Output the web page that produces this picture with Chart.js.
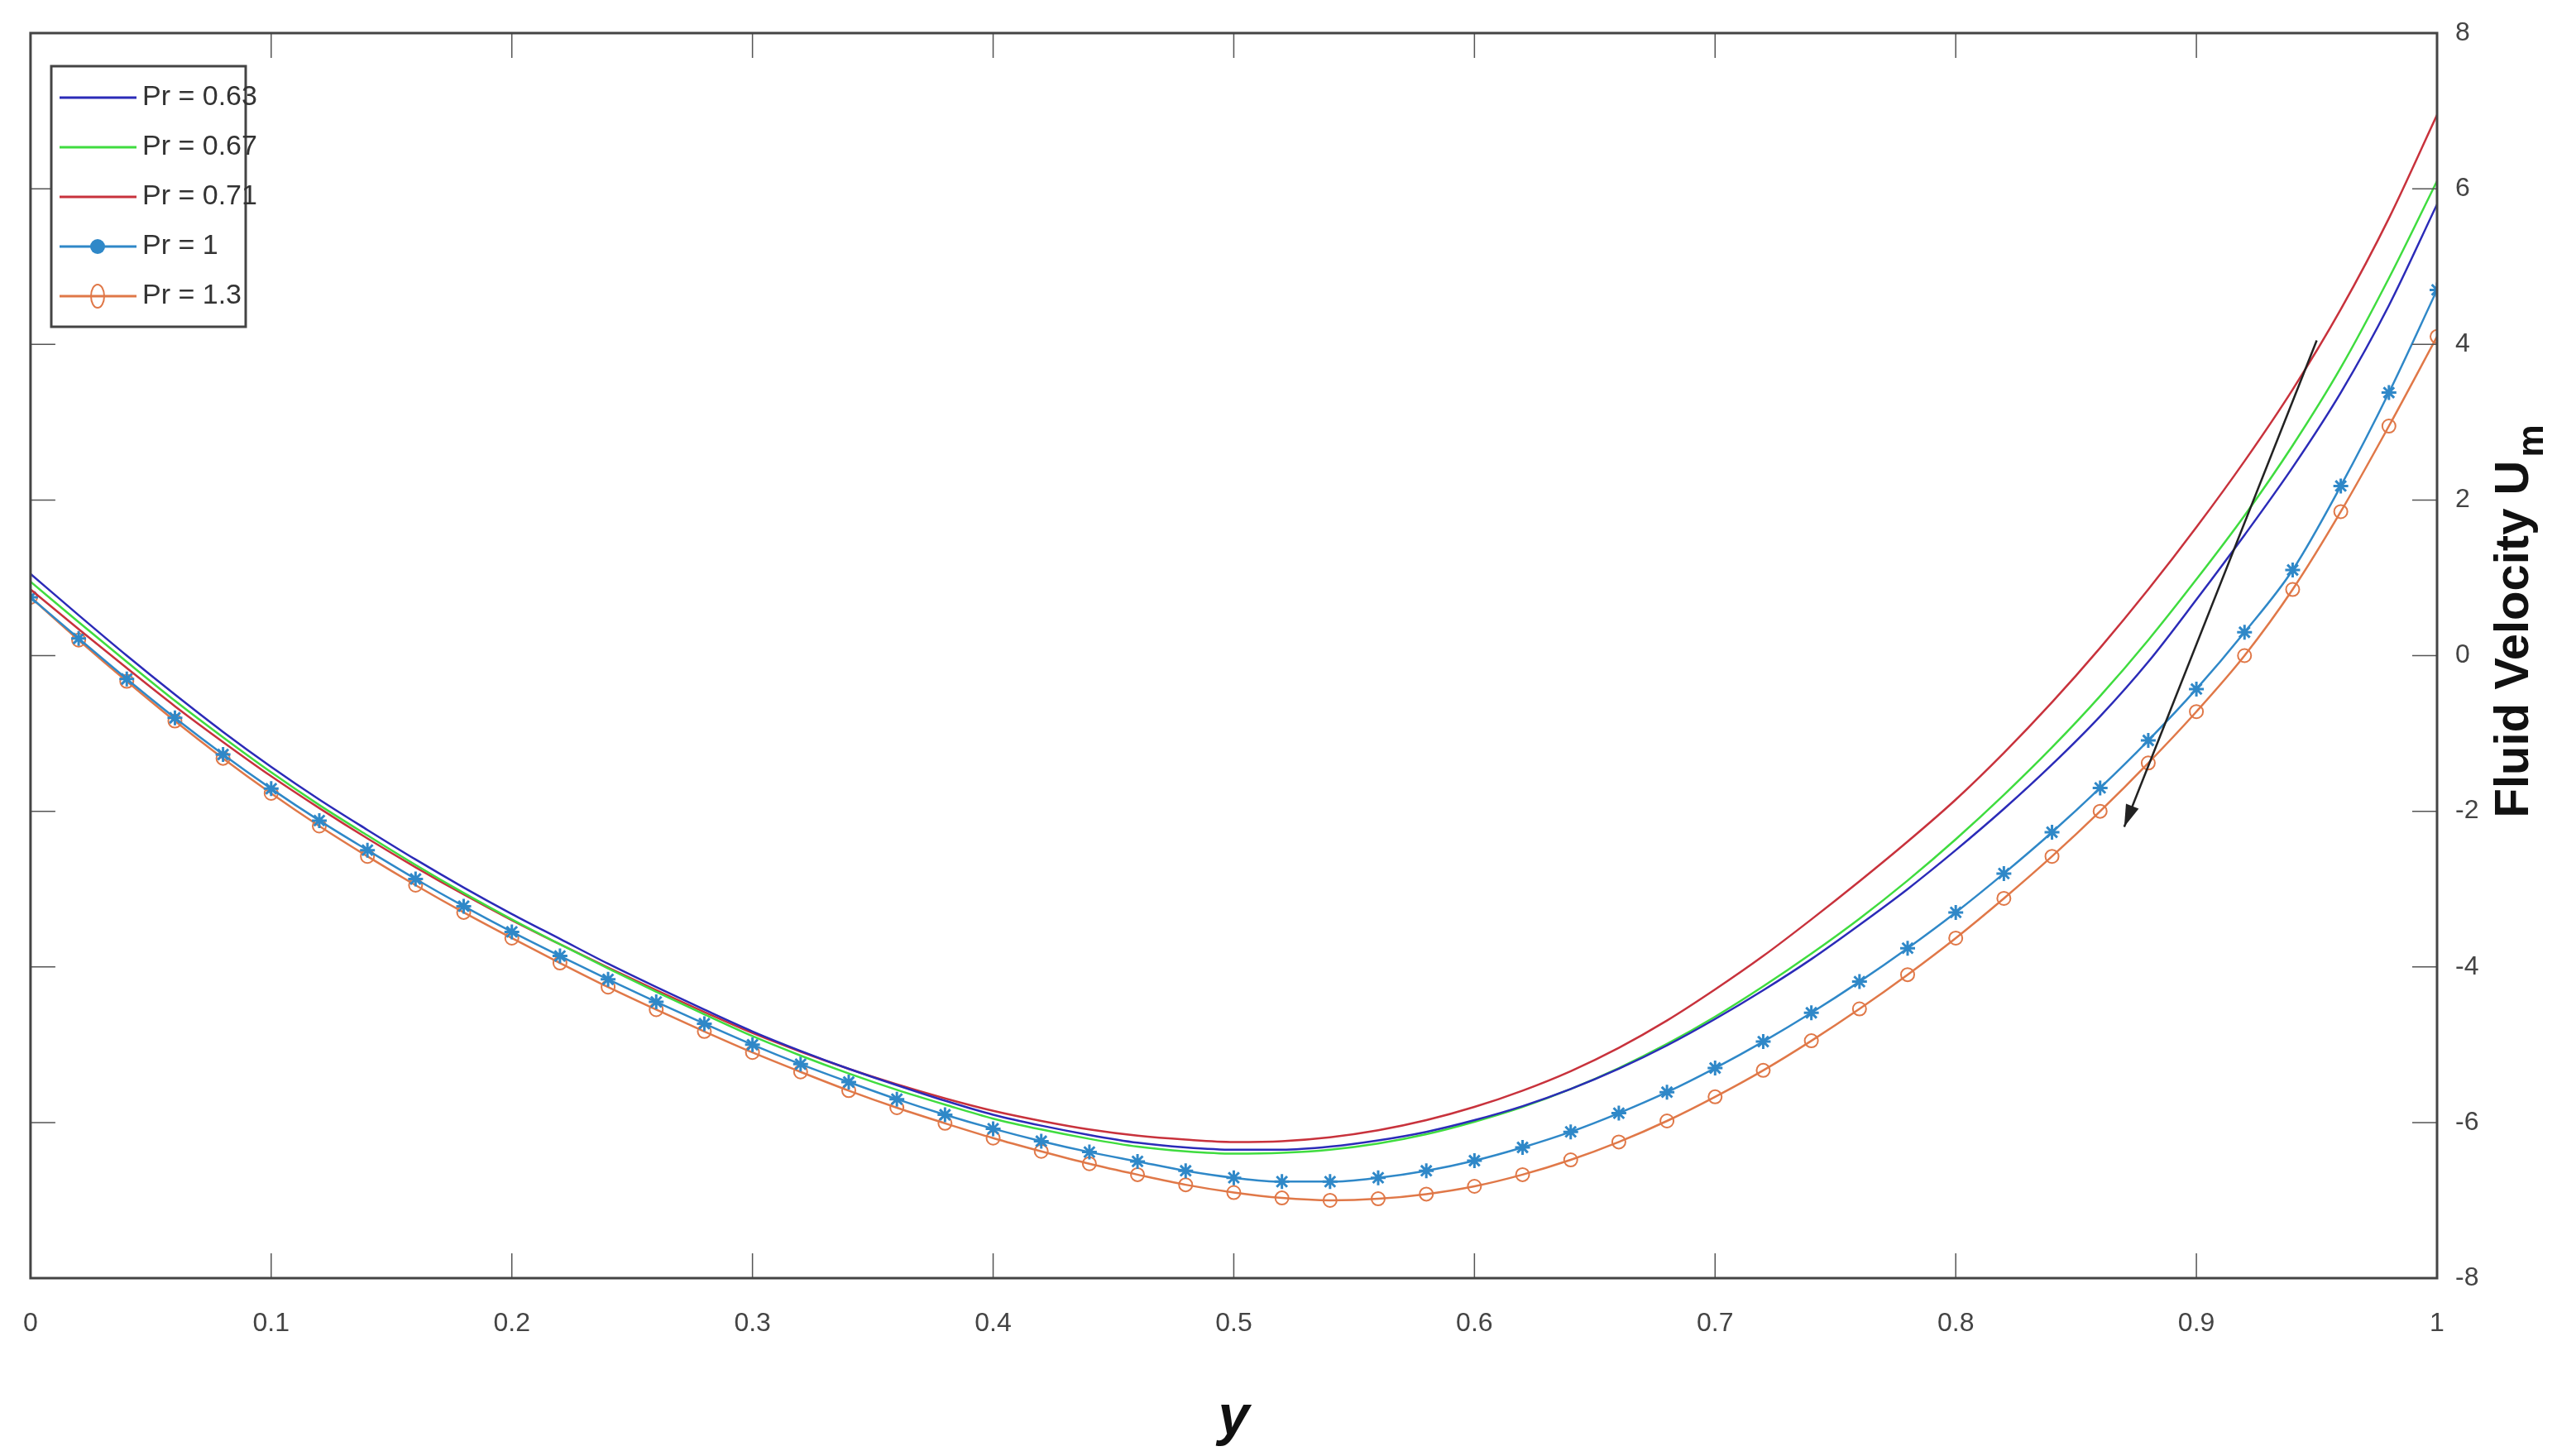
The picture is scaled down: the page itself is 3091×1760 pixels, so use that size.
<!DOCTYPE html>
<html><head><meta charset="utf-8">
<script src="https://cdn.jsdelivr.net/npm/chart.js@4/dist/chart.umd.min.js"></script>
<style>html,body{margin:0;padding:0;background:#fff}#w{width:3091px;height:1760px}</style>
</head><body><div id="w"><canvas id="c"></canvas></div>
<script>
const xs = [0,.02,.04,.06,.08,.10,.12,.14,.16,.18,.20,.22,.24,.26,.28,.30,.32,.34,.36,.38,.40,.42,.44,.46,.48,.50,.52,.54,.56,.58,.60,.62,.64,.66,.68,.70,.72,.74,.76,.78,.80,.82,.84,.86,.88,.90,.92,.94,.96,.98,1];
const pr063 = [1.05,0.52,0.0,-0.5,-0.98,-1.43,-1.85,-2.24,-2.62,-2.98,-3.32,-3.64,-3.96,-4.26,-4.55,-4.83,-5.08,-5.31,-5.52,-5.72,-5.9,-6.04,-6.16,-6.26,-6.32,-6.35,-6.35,-6.31,-6.23,-6.12,-5.97,-5.79,-5.57,-5.31,-5.01,-4.67,-4.3,-3.9,-3.46,-3.0,-2.5,-1.97,-1.4,-0.78,-0.08,0.72,1.55,2.42,3.38,4.5,5.8];
const pr067 = [0.95,0.43,-0.08,-0.58,-1.05,-1.5,-1.92,-2.31,-2.69,-3.05,-3.39,-3.71,-4.02,-4.32,-4.61,-4.89,-5.14,-5.37,-5.58,-5.77,-5.95,-6.09,-6.21,-6.31,-6.37,-6.4,-6.39,-6.35,-6.27,-6.15,-5.99,-5.8,-5.57,-5.3,-4.99,-4.64,-4.25,-3.83,-3.38,-2.89,-2.36,-1.79,-1.18,-0.52,0.2,0.98,1.8,2.7,3.7,4.85,6.1];
const pr071 = [0.85,0.34,-0.16,-0.65,-1.11,-1.55,-1.96,-2.35,-2.72,-3.07,-3.4,-3.71,-4.01,-4.3,-4.58,-4.85,-5.09,-5.31,-5.51,-5.69,-5.85,-5.98,-6.09,-6.17,-6.22,-6.25,-6.24,-6.19,-6.1,-5.97,-5.8,-5.59,-5.34,-5.04,-4.69,-4.29,-3.86,-3.39,-2.9,-2.39,-1.85,-1.25,-0.6,0.1,0.85,1.65,2.5,3.42,4.45,5.62,6.95];
const pr1 = [0.75,0.22,-0.3,-0.8,-1.27,-1.71,-2.12,-2.5,-2.87,-3.22,-3.55,-3.86,-4.16,-4.45,-4.73,-5.0,-5.25,-5.48,-5.7,-5.9,-6.08,-6.24,-6.38,-6.5,-6.62,-6.71,-6.76,-6.76,-6.71,-6.62,-6.49,-6.32,-6.12,-5.88,-5.61,-5.3,-4.96,-4.59,-4.19,-3.76,-3.3,-2.8,-2.27,-1.7,-1.09,-0.43,0.3,1.1,2.18,3.38,4.7];
const pr13 = [0.75,0.2,-0.33,-0.84,-1.32,-1.77,-2.19,-2.58,-2.95,-3.3,-3.63,-3.95,-4.26,-4.55,-4.83,-5.1,-5.35,-5.59,-5.81,-6.01,-6.2,-6.37,-6.53,-6.67,-6.8,-6.9,-6.97,-7.0,-6.98,-6.92,-6.82,-6.67,-6.48,-6.25,-5.98,-5.67,-5.33,-4.95,-4.54,-4.1,-3.63,-3.12,-2.58,-2.0,-1.38,-0.72,0.0,0.85,1.85,2.95,4.1];
const labels = ['Pr = 0.63','Pr = 0.67','Pr = 0.71','Pr = 1','Pr = 1.3'];
const colors = ['#2b2bb8','#3fdc3f','#c8323c','#2f88c8','#e07848'];
const xTicks = [0,0.1,0.2,0.3,0.4,0.5,0.6,0.7,0.8,0.9,1];
const yTicks = [-8,-6,-4,-2,0,2,4,6,8];
const arrow = {from:[0.95,4.05], to:[0.87,-2.2]};
const series=[pr063,pr067,pr071,pr1,pr13];
const styles=['line','line','line','star','circle'];
const FONT='"Liberation Sans Narrow","Liberation Sans",Arial,sans-serif';

const ds = series.map((s,i)=>({label:labels[i],data:xs.map((x,j)=>({x,y:s[j]})),borderColor:colors[i],backgroundColor:styles[i]==='star'?colors[i]:'rgba(0,0,0,0)',borderWidth:2.5,pointStyle:styles[i]==='line'?false:(styles[i]==='star'?'star':'circle'),pointRadius:styles[i]==='line'?0:(styles[i]==='star'?9:8),pointBorderWidth:styles[i]==='star'?3:2,pointBorderColor:colors[i],cubicInterpolationMode:'monotone'}));

const deco={id:'deco',afterDatasetsDraw(ch){
  const c=ch.ctx,a=ch.chartArea,X=ch.scales.x,Y=ch.scales.y;
  c.save();
  c.strokeStyle='#555';c.lineWidth=1.5;
  xTicks.forEach(t=>{const px=X.getPixelForValue(t);c.beginPath();c.moveTo(px,a.bottom);c.lineTo(px,a.bottom-30);c.moveTo(px,a.top);c.lineTo(px,a.top+30);c.stroke();});
  yTicks.forEach(t=>{const py=Y.getPixelForValue(t);c.beginPath();c.moveTo(a.left,py);c.lineTo(a.left+30,py);c.moveTo(a.right,py);c.lineTo(a.right-30,py);c.stroke();});
  c.strokeStyle='#444';c.lineWidth=3;c.strokeRect(a.left,a.top,a.right-a.left,a.bottom-a.top);
  const x1=X.getPixelForValue(arrow.from[0]),y1=Y.getPixelForValue(arrow.from[1]),x2=X.getPixelForValue(arrow.to[0]),y2=Y.getPixelForValue(arrow.to[1]);
  c.strokeStyle='#222';c.fillStyle='#222';c.lineWidth=2.5;c.beginPath();c.moveTo(x1,y1);c.lineTo(x2,y2);c.stroke();
  const ang=Math.atan2(y2-y1,x2-x1),L=28;
  c.beginPath();c.moveTo(x2,y2);c.lineTo(x2-L*Math.cos(ang-0.3),y2-L*Math.sin(ang-0.3));c.lineTo(x2-L*Math.cos(ang+0.3),y2-L*Math.sin(ang+0.3));c.closePath();c.fill();
  // legend
  c.fillStyle='#fff';c.fillRect(62,80,235,315);c.strokeStyle='#444';c.lineWidth=3;c.strokeRect(62,80,235,315);
  const ys=[118,178,238,298,358];
  c.font='34px '+FONT;c.textBaseline='middle';
  ys.forEach((yy,i)=>{c.strokeStyle=colors[i];c.lineWidth=3;c.beginPath();c.moveTo(72,yy);c.lineTo(165,yy);c.stroke();
    if(styles[i]!=='line'){c.lineWidth=2;c.beginPath();if(styles[i]==='circle'){c.ellipse(118,yy,8,14,0,0,Math.PI*2);c.stroke();}else{c.fillStyle=colors[i];c.arc(118,yy,9,0,Math.PI*2);c.fill();}}
    c.fillStyle='#333';c.fillText(labels[i],172,yy);});
  // right axis title, reading bottom to top
  c.translate(3040,(a.top+a.bottom)/2-40);c.rotate(-Math.PI/2);
  c.fillStyle='#111';c.textAlign='center';c.textBaseline='middle';
  c.font='bold 58px "Liberation Sans",Arial,sans-serif';
  c.fillText('Fluid Velocity U',-20,0);
  const w=c.measureText('Fluid Velocity U').width;
  c.font='bold 44px "Liberation Sans",Arial,sans-serif';c.textAlign='left';
  c.fillText('m',-20+w/2+4,22);
  c.restore();
}};

new Chart(document.getElementById('c'),{type:'line',data:{datasets:ds},
 options:{responsive:true,maintainAspectRatio:false,animation:false,
  layout:{padding:{left:36,top:40,right:0,bottom:0}},
  plugins:{legend:{display:false},tooltip:{enabled:false}},
  scales:{
   x:{type:'linear',min:0,max:1,grid:{display:false},border:{display:false},
      afterBuildTicks(s){s.ticks=xTicks.map(v=>({value:v}));},
      afterFit(s){s.height=215;},
      ticks:{color:'#444',font:{size:32,family:FONT},padding:28,maxRotation:0,callback:v=>String(v)},
      title:{display:true,text:'y',color:'#111',font:{size:68,weight:'bold',style:'italic',family:'Liberation Sans'},padding:{top:34}}},
   y:{type:'linear',position:'right',min:-8,max:8,grid:{display:false},border:{display:false},
      afterBuildTicks(s){s.ticks=yTicks.map(v=>({value:v}));},
      afterFit(s){s.width=145;},
      ticks:{color:'#444',font:{size:32,family:FONT},padding:14}}
  }},plugins:[deco]});
</script></body></html>
